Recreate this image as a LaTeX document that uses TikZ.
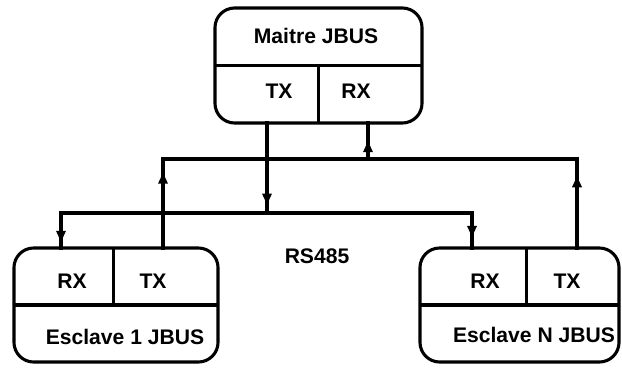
\documentclass[tikz,border=0pt]{standalone}
\usepackage{fontspec}
\setmainfont{Liberation Sans}
\usetikzlibrary{arrows.meta,positioning,decorations.markings}

\begin{document}
\begin{tikzpicture}[
  x=0.025cm, y=-0.025cm,
  >=Latex,
  unit/.style={rectangle, rounded corners=14pt, draw=black, line width=2.2pt},
  lbl/.style={font=\fontsize{15}{17}\selectfont\bfseries, inner sep=1pt},
  divider/.style={line width=2.2pt},
  wire/.style={line width=2.2pt, line cap=rect},
  arrowat/.style={postaction={decorate}, decoration={markings, mark=at position #1 with {\arrow{Latex[length=10pt,width=7.5pt]}}}},
]

\useasboundingbox (0,0) rectangle (622,368);

% units
\node[unit, minimum width=5.175cm, minimum height=2.875cm] (master) at (318.5,65.5) {};
\node[unit, minimum width=5.1cm, minimum height=2.85cm] (slave1) at (116,305) {};
\node[unit, minimum width=4.975cm, minimum height=2.85cm] (slaven) at (519.5,305) {};

% dividers
\draw[divider] ([xshift=1.1pt]master.west) -- ([xshift=-1.1pt]master.east);
\draw[divider] (master.center) -- ([yshift=1.1pt]master.south);
\draw[divider] ([xshift=1.1pt]slave1.west) -- ([xshift=-1.1pt]slave1.east);
\draw[divider] ([xshift=-2pt,yshift=-1.1pt]slave1.north) -- ([xshift=-2pt]slave1.center);
\draw[divider] ([xshift=1.1pt]slaven.west) -- ([xshift=-1.1pt]slaven.east);
\draw[divider] ([xshift=5pt,yshift=-1.1pt]slaven.north) -- ([xshift=5pt]slaven.center);

% labels
\node[lbl] (mtitle) at (316,36) {Maitre JBUS};
\node[lbl] (mtx) at (279,91) {TX};
\node[lbl] (mrx) at (356,91) {RX};
\node[lbl] (s1rx) at (72,281) {RX};
\node[lbl] (s1tx) at (153,281) {TX};
\node[lbl] (s1name) at (125,337) {Esclave 1 JBUS};
\node[lbl] (snrx) at (485,281) {RX};
\node[lbl] (sntx) at (567,281) {TX};
\node[lbl] (snname) at (534,335) {Esclave N JBUS};
\node[lbl] (bus) at (317,256) {RS485};

% ports and bus ends
\coordinate (mtxp) at (267,123);
\coordinate (mrxp) at (368,123);
\coordinate (s1rxp) at (61,248);
\coordinate (s1txp) at (163,248);
\coordinate (snrxp) at (472,248);
\coordinate (sntxp) at (577,248);
\coordinate (ua) at (163,159);
\coordinate (ub) at (577,159);
\coordinate (la) at (61,213);
\coordinate (lb) at (472,213);

% upper bus: slaves TX to master RX
\draw[wire, arrowat=0.88] (s1txp) -- (ua);
\draw[wire] (ua) -- (ub);
\draw[wire, arrowat=0.84] (sntxp) -- (ub);
\draw[wire, arrowat=0.58] (mrxp |- ua) -- (mrxp);

% lower bus: master TX to slaves RX
\draw[wire, arrowat=0.94] (mtxp) -- (mtxp |- la);
\draw[wire] (la) -- (lb);
\draw[wire, arrowat=0.91] (la) -- (s1rxp);
\draw[wire, arrowat=0.77] (lb) -- (snrxp);

\end{tikzpicture}
\end{document}
